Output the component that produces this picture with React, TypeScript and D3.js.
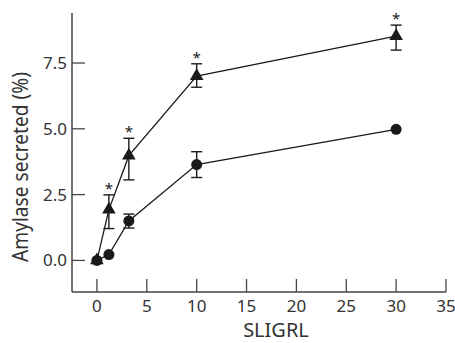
import React from "react";
import * as d3 from "d3";

// values
const doses = [0, 1.2, 3.2, 10, 30];
const triangleMean = [0, 1.93, 3.98, 7.0, 8.52];
const triangleLow = [0, 1.21, 3.06, 6.58, 7.99];
const triangleHigh = [0, 2.49, 4.64, 7.47, 8.94];
const triangleStar = [false, true, true, true, true];
const circleMean = [0, 0.22, 1.5, 3.64, 4.98];
const circleLow = [0, 0.22, 1.23, 3.15, 4.98];
const circleHigh = [0, 0.22, 1.76, 4.13, 4.98];
const xTicks = [0, 5, 10, 15, 20, 25, 30, 35];
const yTicks = [0, 2.5, 5, 7.5];

const width = 455;
const height = 343;

const App = () => {
    const x = d3.scaleLinear().domain([-2.5, 35]).range([72, 446]);
    const y = d3.scaleLinear().domain([-1.2, 9.4]).range([292, 13]);
    const line = d3.line<number>()
        .x((d, i) => x(doses[i]))
        .y(d => y(d));
    const tri = d3.symbol().type(d3.symbolTriangle).size(80)();
    const ink = "#1a1a1a";
    const axisCol = "#444";
    const font = "'Noto Sans', sans-serif";
    const narrow = "'Liberation Sans Narrow', 'Noto Sans', sans-serif";

    const errorBar = (i: number, lo: number, hi: number, key: string) => {
        if (hi - lo < 0.05) return null;
        const cx = x(doses[i]);
        return (
            <g key={key} stroke={ink} strokeWidth={1.4}>
                <line x1={cx} x2={cx} y1={y(lo)} y2={y(hi)} />
                <line x1={cx - 5.5} x2={cx + 5.5} y1={y(lo)} y2={y(lo)} />
                <line x1={cx - 5.5} x2={cx + 5.5} y1={y(hi)} y2={y(hi)} />
            </g>
        );
    };

    return (
        <svg width={width} height={height} style={{ position: "absolute", left: 0, top: 0 }}>
            <rect width={width} height={height} fill="#fff" />
            {/* axes */}
            <line x1={72} x2={72} y1={y.range()[1]} y2={y.range()[0]} stroke={axisCol} strokeWidth={1.5} />
            <line x1={72} x2={x.range()[1]} y1={292} y2={292} stroke={axisCol} strokeWidth={1.5} />
            {xTicks.map(t => (
                <g key={"x" + t}>
                    <line x1={x(t)} x2={x(t)} y1={292} y2={279} stroke={axisCol} strokeWidth={1.3} />
                    <text x={x(t)} y={312} textAnchor="middle" fontFamily={font} fontSize={17} fill="#333">{t}</text>
                </g>
            ))}
            {yTicks.map(t => (
                <g key={"y" + t}>
                    <line x1={72} x2={85} y1={y(t)} y2={y(t)} stroke={axisCol} strokeWidth={1.3} />
                    <text x={67} y={y(t) + 6} textAnchor="end" fontFamily={font} fontSize={17} fill="#333">{t.toFixed(1)}</text>
                </g>
            ))}
            <text x={276} y={337} textAnchor="middle" fontFamily={font} fontSize={20} fill="#333">SLIGRL</text>
            <text transform={`translate(28,167) rotate(-90)`} textAnchor="middle" fontFamily={narrow} fontSize={21}
                textLength={190} lengthAdjust="spacingAndGlyphs" fill="#333">Amylase secreted (%)</text>

            {/* circle series */}
            <path d={line(circleMean) || ""} fill="none" stroke={ink} strokeWidth={1.3} />
            {doses.map((d, i) => errorBar(i, circleLow[i], circleHigh[i], "ce" + i))}
            {doses.map((d, i) => (
                <circle key={"c" + i} cx={x(d)} cy={y(circleMean[i])} r={5.5} fill={ink} />
            ))}

            {/* triangle series */}
            <path d={line(triangleMean) || ""} fill="none" stroke={ink} strokeWidth={1.3} />
            {doses.map((d, i) => errorBar(i, triangleLow[i], triangleHigh[i], "te" + i))}
            {doses.map((d, i) => (
                <path key={"t" + i} d={tri || ""} transform={`translate(${x(d)},${y(triangleMean[i])})`} fill={ink} />
            ))}
            {doses.map((d, i) => triangleStar[i] ? (
                <text key={"s" + i} x={x(d)} y={y(triangleHigh[i]) - 1} textAnchor="middle" fontFamily={font} fontSize={15} fill={ink}>*</text>
            ) : null)}
        </svg>
    );
};

export default App;
